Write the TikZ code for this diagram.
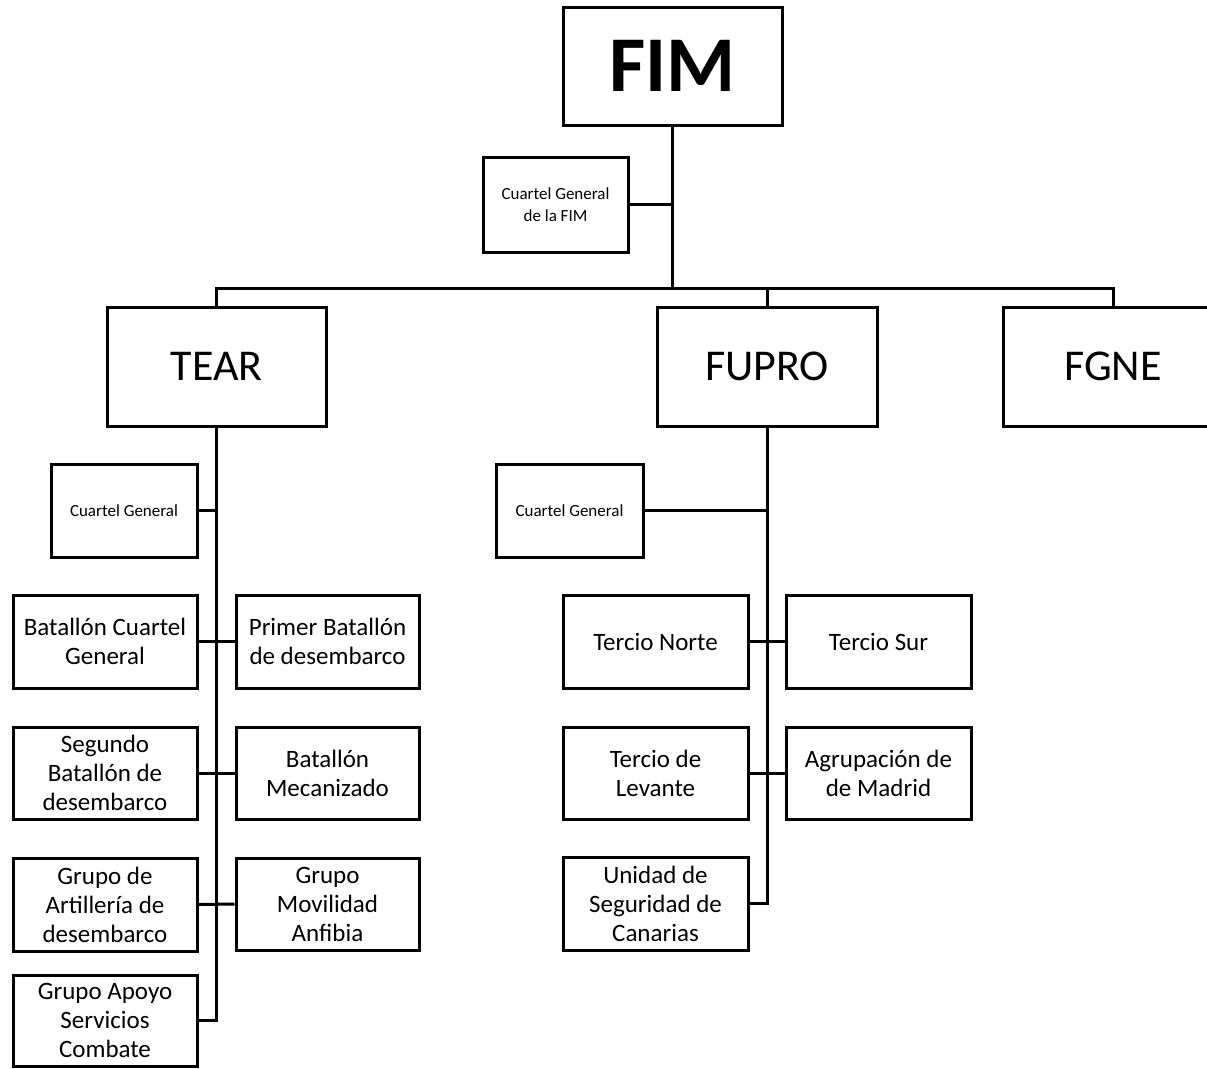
\documentclass[tikz,border=0pt]{standalone}
\usepackage{fontspec}
\setmainfont{Carlito}
\begin{document}
\begin{tikzpicture}[x=1pt,y=-1pt,
  box/.style={draw=black, line width=3pt, fill=white, inner sep=2pt, align=center, line join=miter},
  txt/.style={font=\fontsize{25}{29}\selectfont},
  small/.style={font=\fontsize{17}{22}\selectfont},
  big/.style={font=\fontsize{44}{50}\selectfont},
  huge/.style={font=\fontsize{79}{90}\selectfont\bfseries},
  link/.style={draw=black, line width=3pt, line join=miter}]
\useasboundingbox (0,0) rectangle (1207,1068);
\clip (0,0) rectangle (1207,1068);

% top level
\node[box,huge,minimum width=219pt,minimum height=118pt] (fim) at (672.5,66) {FIM};
\node[box,small,minimum width=145pt,minimum height=95pt] (cgfim) at (555.5,204.5) {Cuartel General\\de la FIM};

\node[box,big,minimum width=219pt,minimum height=119pt] (tear) at (216.5,366.5) {TEAR};
\node[box,big,minimum width=220pt,minimum height=119pt] (fupro) at (767,366.5) {FUPRO};
\node[box,big,minimum width=220pt,minimum height=119pt] (fgne) at (1113,366.5) {FGNE};

\coordinate (busL) at (216.5,288);
\coordinate (busR) at (1113,288);

% TEAR children
\node[box,small,minimum width=146pt,minimum height=93pt] (cgt) at (124,510.5) {Cuartel General};
\node[box,txt,minimum width=184pt,minimum height=93pt] (bcg) at (105,641.5) {Batallón Cuartel\\General};
\node[box,txt,minimum width=183pt,minimum height=93pt] (pbd) at (327.5,641.5) {Primer Batallón\\de desembarco};
\node[box,txt,minimum width=184pt,minimum height=92pt] (sbd) at (105,773) {Segundo\\Batallón de\\desembarco};
\node[box,txt,minimum width=183pt,minimum height=92pt] (bm) at (327.5,773) {Batallón\\Mecanizado};
\node[box,txt,minimum width=184pt,minimum height=93pt] (gad) at (105,904.5) {Grupo de\\Artillería de\\desembarco};
\node[box,txt,minimum width=183pt,minimum height=92pt] (gma) at (327.5,904) {Grupo\\Movilidad\\Anfibia};
\node[box,txt,minimum width=184pt,minimum height=91pt] (gasc) at (105,1020.5) {Grupo Apoyo\\Servicios\\Combate};

% FUPRO children
\node[box,small,minimum width=147pt,minimum height=93pt] (cgf) at (569.5,510.5) {Cuartel General};
\node[box,txt,minimum width=185pt,minimum height=93pt] (tn) at (655.5,641.5) {Tercio Norte};
\node[box,txt,minimum width=185pt,minimum height=93pt] (ts) at (878.5,641.5) {Tercio Sur};
\node[box,txt,minimum width=185pt,minimum height=92pt] (tl) at (655.5,773) {Tercio de\\Levante};
\node[box,txt,minimum width=185pt,minimum height=92pt] (am) at (878.5,773) {Agrupación de\\de Madrid};
\node[box,txt,minimum width=185pt,minimum height=93pt] (usc) at (655.5,903.5) {Unidad de\\Seguridad de\\Canarias};

% connectors top
\draw[link] (fim.south) -- (fim.south |- busL);
\draw[link] (cgfim.east) -- (cgfim.east -| fim.south);
\draw[link] (tear.north) -- (busL) -- (busR) -- (fgne.north);
\draw[link] (fupro.north) -- (fupro.north |- busL);

% TEAR connectors
\draw[link] (tear.south) -- (tear.south |- gasc.east) -- (gasc.east);
\draw[link] (cgt.east) -- (cgt.east -| tear.south);
\draw[link] (bcg.east) -- (pbd.west);
\draw[link] (sbd.east) -- (bm.west);
\draw[link] (gad.east) -- (gma.west);

% FUPRO connectors
\draw[link] (fupro.south) -- (fupro.south |- usc.east) -- (usc.east);
\draw[link] (cgf.east) -- (cgf.east -| fupro.south);
\draw[link] (tn.east) -- (ts.west);
\draw[link] (tl.east) -- (am.west);
\end{tikzpicture}
\end{document}
